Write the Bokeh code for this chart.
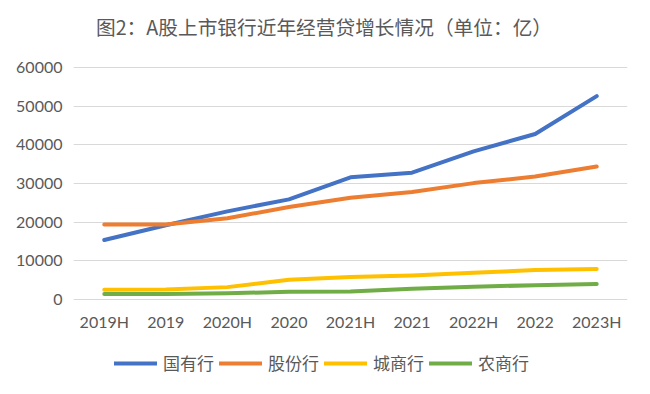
from bokeh.plotting import figure
from bokeh.layouts import column
from bokeh.models import Range1d, FactorRange, Legend, LegendItem, FixedTicker, Div
from bokeh.embed import file_html
from bokeh.resources import INLINE

title_text = "图2：A股上市银行近年经营贷增长情况（单位：亿）"
categories = ["2019H", "2019", "2020H", "2020", "2021H", "2021", "2022H", "2022", "2023H"]
state_owned = [15400, 19200, 22800, 25900, 31600, 32800, 38300, 42800, 52600]
joint_stock = [19400, 19400, 21000, 23900, 26300, 27800, 30100, 31800, 34400]
city_comm = [2500, 2600, 3200, 5100, 5800, 6200, 6900, 7600, 7900]
rural_comm = [1400, 1400, 1600, 2000, 2100, 2800, 3300, 3700, 4000]
series_names = ["国有行", "股份行", "城商行", "农商行"]
y_ticks = [0, 10000, 20000, 30000, 40000, 50000, 60000]
colors = ["#4472C4", "#ED7D31", "#FFC000", "#70AD47"]
all_series = [state_owned, joint_stock, city_comm, rural_comm]

TXT = "#595959"
LW = 4

title_div = Div(
    text=('<div style="margin:0;padding:17px 0 0 96px;font-family:\'Noto Sans CJK SC\';'
          'font-size:19.7px;line-height:20px;color:%s;white-space:nowrap;">%s</div>' % (TXT, title_text)),
    width=650, height=54, margin=0)

p = figure(width=650, height=288, x_range=FactorRange(*categories, range_padding=0),
           y_range=Range1d(-776, 60776), output_backend="svg", toolbar_location=None,
           min_border_left=73, min_border_right=23, min_border_top=10, min_border_bottom=40)
p.x_range.range_padding = 0
p.outline_line_color = None
p.background_fill_color = "white"
p.border_fill_color = "white"

p.xgrid.grid_line_color = None
p.ygrid.grid_line_color = "#d9d9d9"
p.ygrid.grid_line_width = 1
p.yaxis.ticker = FixedTicker(ticks=y_ticks)
for ax in (p.xaxis, p.yaxis):
    ax.axis_line_color = None
    ax.major_tick_line_color = None
    ax.minor_tick_line_color = None
    ax.major_tick_out = 0
    ax.major_tick_in = 0
    ax.major_label_text_font = "Lato"
    ax.major_label_text_font_size = "16px"
    ax.major_label_text_color = TXT
p.yaxis.major_label_standoff = 11
p.xaxis.major_label_standoff = 9
p.yaxis.formatter.use_scientific = False

for name, vals, c in zip(series_names, all_series, colors):
    p.line(categories, vals, line_color=c, line_width=LW, line_cap="round", line_join="round")

# legend strip: same series drawn outside its visible range, only the legend shows
p2 = figure(width=650, height=52, x_range=FactorRange(*categories, range_padding=0),
            y_range=Range1d(200000, 200001),
            output_backend="svg", toolbar_location=None, x_axis_type=None, y_axis_type=None,
            min_border=0)
p2.outline_line_color = None
p2.xgrid.grid_line_color = None
p2.ygrid.grid_line_color = None
p2.border_fill_color = "white"
items = []
for name, vals, c in zip(series_names, all_series, colors):
    r = p2.line(categories, vals, line_color=c, line_width=LW, line_cap="round")
    items.append(LegendItem(label=name, renderers=[r]))
legend = Legend(items=items, orientation="horizontal", location=(41, 19),
                label_text_font="Noto Sans CJK SC", label_text_font_size="17px",
                label_text_color=TXT, glyph_width=43, glyph_height=20, label_height=20,
                label_standoff=6, spacing=5, padding=0, margin=0,
                border_line_color=None, background_fill_alpha=0)
p2.add_layout(legend, "center")

layout = column(title_div, p, p2, spacing=0)

open("out.html", "w").write(file_html(layout, INLINE))
